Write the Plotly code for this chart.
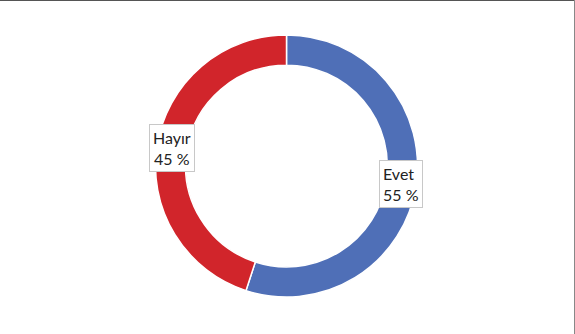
import math
import plotly.graph_objects as go

labels = ["Evet", "Hayır"]
values = [55, 45]
colors = ["#4F6FB7", "#D1252B"]

W, H = 575, 334
cx, cy, R = 286.5, 166.0, 131.0
hole = 0.77

fig = go.Figure(go.Pie(
    labels=labels, values=values, sort=False, direction="clockwise", rotation=0,
    hole=hole, marker=dict(colors=colors, line=dict(color="white", width=1.5)),
    textinfo="none", hoverinfo="label+percent", showlegend=False,
    domain=dict(x=[(cx - R) / W, (cx + R) / W], y=[(H - cy - R) / H, (H - cy + R) / H]),
))

total = sum(values)
start = 0.0
rmid = R * (1 + hole) / 2
for lab, v in zip(labels, values):
    mid = start + v / total * 360 / 2
    start += v / total * 360
    a = math.radians(mid)
    px = cx + rmid * math.sin(a)
    py = cy - rmid * math.cos(a)
    fig.add_annotation(
        x=px / W, y=1 - py / H, xref="paper", yref="paper", showarrow=False,
        xanchor="center", yanchor="middle",
        text=f"{lab}<br>{round(v / total * 100)} %",
        font=dict(family="Lato, Open Sans, sans-serif", size=16, color="#222"),
        bgcolor="white", bordercolor="#C8C8C8", borderwidth=1, borderpad=3,
        align="left" if lab == "Evet" else "center",
    )

fig.add_shape(type="line", xref="paper", yref="paper", x0=0, x1=1, y0=1, y1=1,
              line=dict(color="#555", width=2))
fig.add_shape(type="line", xref="paper", yref="paper", x0=1, x1=1, y0=0, y1=1,
              line=dict(color="#888", width=2))

fig.update_layout(width=W, height=H, margin=dict(l=0, r=0, t=0, b=0),
                  paper_bgcolor="white", plot_bgcolor="white")
fig.write_html("out.html")
